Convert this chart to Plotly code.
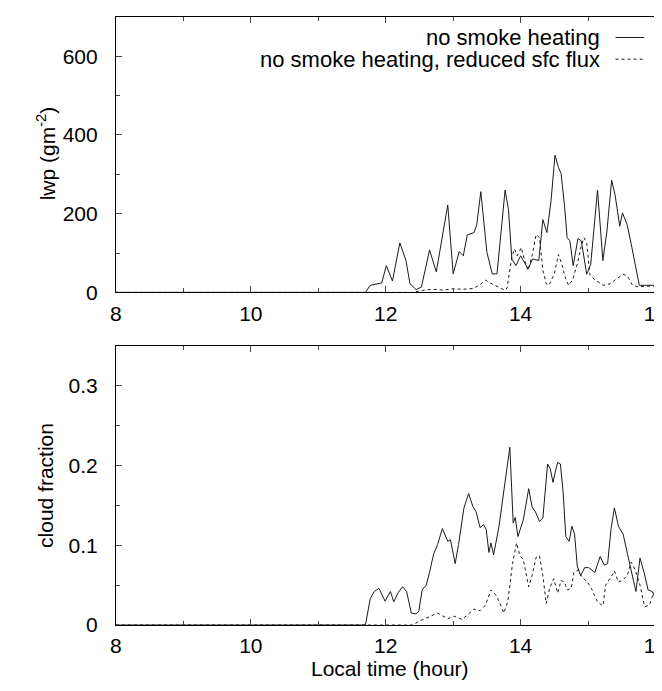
import plotly.graph_objs as go

# local time (hour) and liquid water path (g m^-2), top panel
t_lwp_base = [8.0, 11.70, 11.77, 11.94, 12.01, 12.10, 12.21, 12.30, 12.36, 12.45, 12.53, 12.65,
              12.75, 12.83, 12.92, 13.00, 13.09, 13.15, 13.21, 13.31, 13.35, 13.41, 13.50, 13.58,
              13.65, 13.77, 13.82, 13.87, 13.93, 14.00, 14.11, 14.18, 14.27, 14.33, 14.39, 14.45,
              14.51, 14.56, 14.60, 14.65, 14.69, 14.73, 14.78, 14.85, 14.90, 14.98, 15.04, 15.14,
              15.22, 15.28, 15.35, 15.40, 15.47, 15.51, 15.58, 15.65, 15.76, 15.87, 15.97, 16.09,
              16.18, 16.25]
lwp_base = [0, 0, 18, 24, 68, 29, 126, 81, 22, 7, 14, 108,
            52, 131, 222, 47, 104, 93, 146, 152, 172, 256, 102, 47,
            47, 260, 210, 85, 68, 93, 60, 85, 81, 185, 152, 231,
            349, 318, 302, 222, 139, 131, 68, 137, 131, 46, 72, 260,
            81, 156, 285, 248, 168, 202, 172, 114, 18, 18, 18, 14,
            22, 30]

t_lwp_flux = [8.0, 12.40, 12.55, 12.70, 12.85, 13.00, 13.15, 13.30, 13.40, 13.48, 13.55, 13.62,
              13.70, 13.77, 13.80, 13.84, 13.87, 13.91, 13.95, 14.01, 14.06, 14.11, 14.17, 14.23,
              14.28, 14.33, 14.38, 14.42, 14.50, 14.56, 14.61, 14.66, 14.71, 14.77, 14.84, 14.90,
              14.94, 14.98, 15.03, 15.11, 15.23, 15.33, 15.44, 15.53, 15.59, 15.66, 15.75, 15.87,
              15.99, 16.07, 16.14, 16.18, 16.25]
lwp_flux = [0, 0, 5, 8, 6, 9, 8, 10, 20, 31, 24, 18,
            10, 5, 12, 56, 90, 110, 93, 114, 81, 56, 93, 147,
            139, 56, 22, 18, 47, 96, 72, 39, 18, 31, 72, 118,
            139, 125, 43, 31, 18, 22, 37, 46, 39, 18, 14, 16,
            16, 18, 47, 66, 80]

# cloud fraction, bottom panel
t_cf_base = [8.0, 11.70, 11.77, 11.83, 11.90, 11.99, 12.07, 12.12, 12.18, 12.25, 12.31, 12.38,
             12.45, 12.49, 12.54, 12.60, 12.65, 12.71, 12.77, 12.84, 12.92, 12.96, 13.03, 13.08,
             13.16, 13.23, 13.29, 13.34, 13.40, 13.45, 13.49, 13.53, 13.56, 13.60, 13.68, 13.76,
             13.84, 13.89, 13.92, 13.96, 14.04, 14.12, 14.17, 14.22, 14.28, 14.33, 14.40, 14.44,
             14.48, 14.53, 14.55, 14.59, 14.63, 14.67, 14.72, 14.76, 14.80, 14.84, 14.89, 14.95,
             15.01, 15.10, 15.18, 15.24, 15.29, 15.34, 15.39, 15.45, 15.52, 15.59, 15.65, 15.71,
             15.77, 15.83, 15.89, 15.95, 16.02, 16.07, 16.14, 16.18, 16.25]
cf_base = [0, 0, 0.033, 0.042, 0.046, 0.030, 0.042, 0.029, 0.040, 0.048, 0.042, 0.015,
           0.014, 0.017, 0.044, 0.050, 0.066, 0.089, 0.101, 0.121, 0.105, 0.107, 0.077, 0.101,
           0.147, 0.165, 0.149, 0.142, 0.122, 0.126, 0.120, 0.091, 0.103, 0.088, 0.124, 0.171,
           0.223, 0.128, 0.135, 0.111, 0.132, 0.171, 0.148, 0.142, 0.130, 0.134, 0.202, 0.196,
           0.179, 0.198, 0.204, 0.202, 0.167, 0.111, 0.105, 0.124, 0.114, 0.074, 0.062, 0.072,
           0.072, 0.066, 0.086, 0.075, 0.077, 0.120, 0.147, 0.124, 0.114, 0.087, 0.066, 0.042,
           0.084, 0.066, 0.044, 0.042, 0.030, 0.018, 0.040, 0.048, 0.055]

t_cf_flux = [8.0, 12.40, 12.50, 12.62, 12.77, 12.83, 12.92, 13.02, 13.13, 13.23, 13.31, 13.40,
             13.48, 13.56, 13.63, 13.69, 13.75, 13.81, 13.88, 13.94, 13.99, 14.04, 14.12, 14.17,
             14.23, 14.28, 14.33, 14.38, 14.43, 14.49, 14.55, 14.60, 14.65, 14.69, 14.75, 14.79,
             14.85, 14.91, 14.99, 15.06, 15.14, 15.22, 15.26, 15.36, 15.39, 15.45, 15.51, 15.58,
             15.64, 15.70, 15.77, 15.84, 15.91, 15.97, 16.02, 16.09, 16.14, 16.18, 16.25]
cf_flux = [0, 0, 0.005, 0.009, 0.015, 0.012, 0.008, 0.011, 0.007, 0.014, 0.020, 0.018,
           0.025, 0.044, 0.038, 0.028, 0.015, 0.029, 0.077, 0.103, 0.087, 0.082, 0.048, 0.062,
           0.085, 0.087, 0.062, 0.027, 0.046, 0.058, 0.040, 0.056, 0.054, 0.044, 0.046, 0.066,
           0.069, 0.060, 0.054, 0.044, 0.029, 0.024, 0.050, 0.063, 0.068, 0.054, 0.056, 0.062,
           0.079, 0.069, 0.050, 0.023, 0.025, 0.040, 0.046, 0.052, 0.062, 0.072, 0.080]

labels = ['no smoke heating', 'no smoke heating, reduced sfc flux']

W, H = 662, 691
font = dict(family='Liberation Sans', size=21, color='black')
keyfont = dict(family='Liberation Sans', size=22, color='black')
solid = dict(color='#1a1a1a', width=1)
dashed = dict(color='#1a1a1a', width=1, dash='3px,3px')

fig = go.Figure()
fig.add_trace(go.Scatter(x=t_lwp_base, y=lwp_base, mode='lines', line=solid,
                         xaxis='x', yaxis='y', name=labels[0]))
fig.add_trace(go.Scatter(x=t_lwp_flux, y=lwp_flux, mode='lines', line=dashed,
                         xaxis='x', yaxis='y', name=labels[1]))
fig.add_trace(go.Scatter(x=t_cf_base, y=cf_base, mode='lines', line=solid,
                         xaxis='x2', yaxis='y2', name=labels[0]))
fig.add_trace(go.Scatter(x=t_cf_flux, y=cf_flux, mode='lines', line=dashed,
                         xaxis='x2', yaxis='y2', name=labels[1]))

xdom = [103 / W, 1.0]
top_dom = [1 - 289 / H, 1 - 9 / H]
bot_dom = [1 - 627 / H, 1 - 343.5 / H]

xax = dict(range=[8, 16.2], dtick=2, tick0=8, ticks='inside', ticklen=6,
           minor=dict(dtick=1, ticks='inside', ticklen=4, tick0=8),
           showline=True, linecolor='black', linewidth=1, mirror='allticks',
           showgrid=False, zeroline=False, tickfont=font, ticklabelstandoff=2,
           domain=xdom)
fig.update_layout(
    width=W, height=H,
    margin=dict(l=0, r=0, t=0, b=0),
    paper_bgcolor='white', plot_bgcolor='white',
    showlegend=False,
    font=font,
    xaxis=dict(xax, anchor='y'),
    xaxis2=dict(xax, anchor='y2'),
    yaxis=dict(range=[0, 700], dtick=200, ticks='inside', ticklen=6,
               minor=dict(dtick=100, ticks='inside', ticklen=4),
               showline=True, linecolor='black', linewidth=1, mirror='allticks',
               showgrid=False, zeroline=False, tickfont=font, ticklabelstandoff=13,
               domain=top_dom, anchor='x'),
    yaxis2=dict(range=[0, 0.35], dtick=0.1, ticks='inside', ticklen=6,
                tickvals=[0, 0.1, 0.2, 0.3], ticktext=['0', '0.1', '0.2', '0.3'],
                minor=dict(dtick=0.05, ticks='inside', ticklen=4),
                showline=True, linecolor='black', linewidth=1, mirror='allticks',
                showgrid=False, zeroline=False, tickfont=font, ticklabelstandoff=13,
                domain=bot_dom, anchor='x2'),
)

# axis titles (explicit anchors, paper 'auto' anchoring shifts them)
def label(text, xp, yp, angle=0, f=font, xanchor='center'):
    fig.add_annotation(text=text, textangle=angle, x=xp / W, y=1 - yp / H,
                       xref='paper', yref='paper', showarrow=False, font=f,
                       xanchor=xanchor, yanchor='middle')

label('lwp (gm<sup>-2</sup>)', 32, 148, angle=-90)
label('cloud fraction', 32, 485, angle=-90)
label('Local time (hour)', 380, 671)

# gnuplot-style key: text right-justified, sample line on the right
for i, (lab, ln) in enumerate(zip(labels, [solid, dashed])):
    ypix = 30 + 22 * i
    label(lab, 594, ypix, f=keyfont, xanchor='right')
    fig.add_shape(type='line', x0=608 / W, x1=637 / W, y0=1 - ypix / H, y1=1 - ypix / H,
                  xref='paper', yref='paper', line=ln)

fig.write_html('out.html')
